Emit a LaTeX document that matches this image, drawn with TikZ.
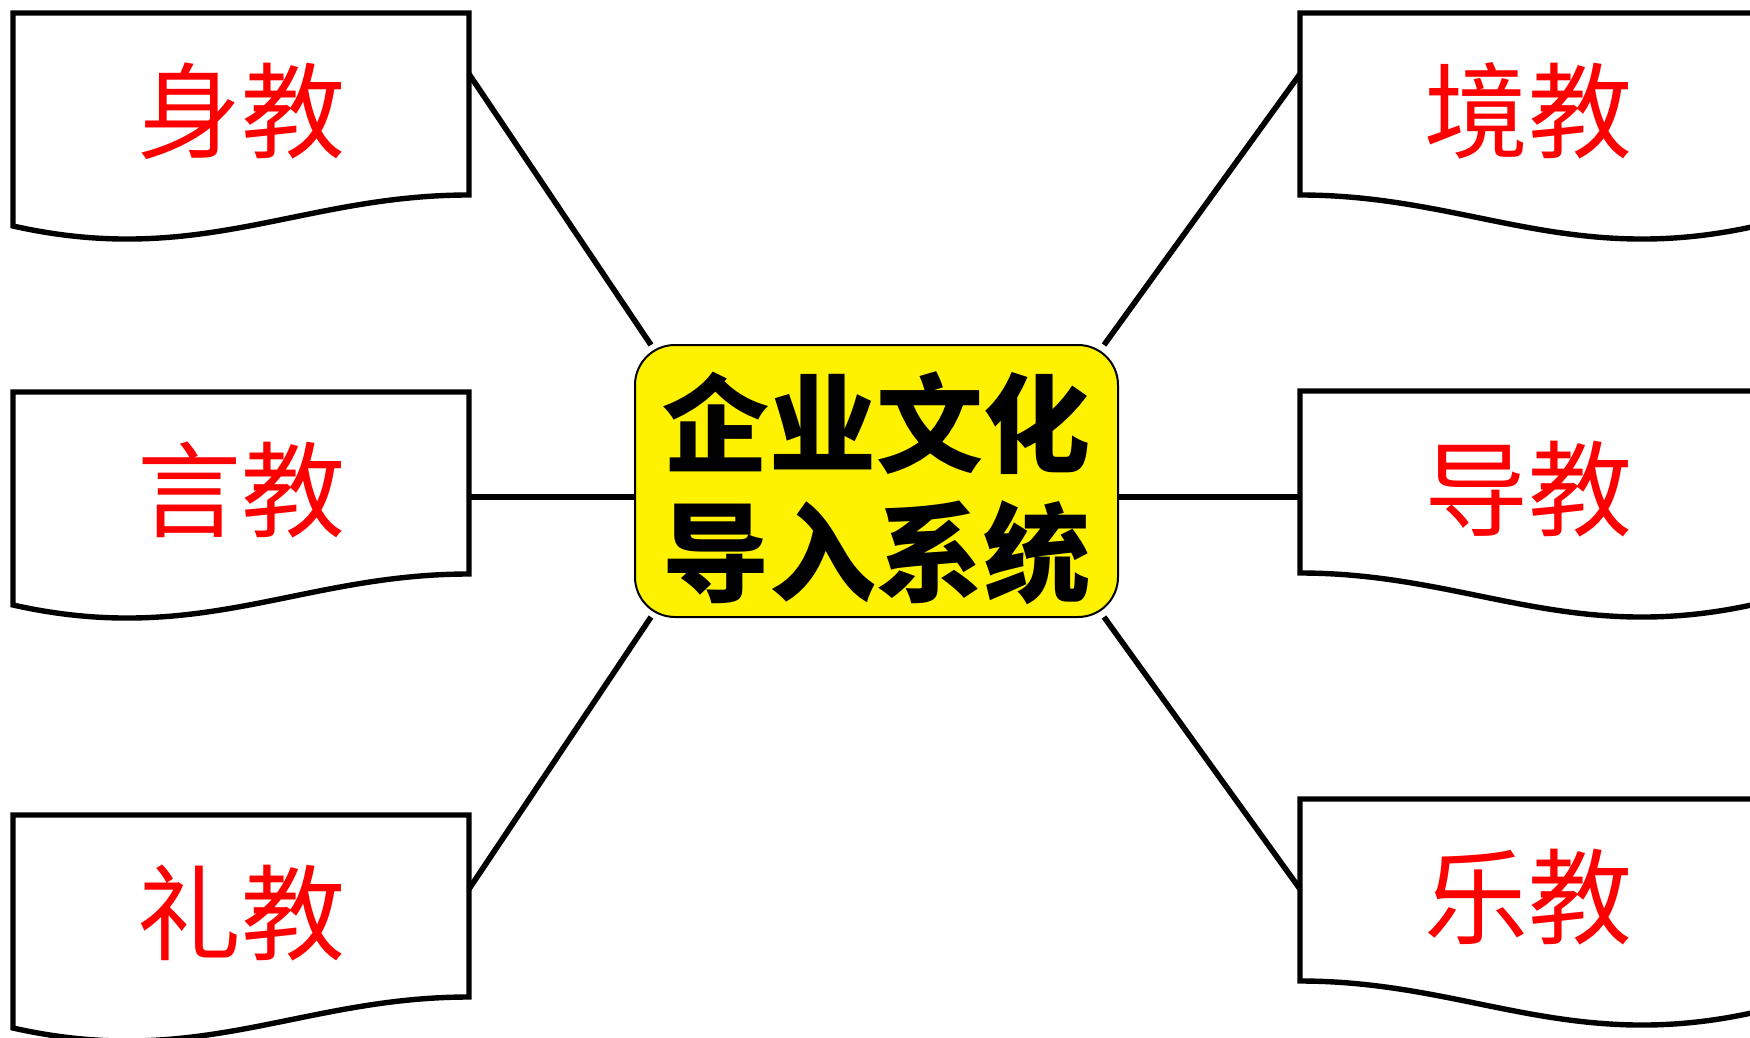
\documentclass[tikz,border=0pt]{standalone}
\usepackage{fontspec}
\newfontfamily\cjk{Noto Sans CJK SC}
\usetikzlibrary{calc}
\tikzset{
  docbox/.style={minimum width=456pt, minimum height=182pt, inner sep=0pt, outer sep=0pt,
    text=red, font=\cjk\fontsize{104pt}{116pt}\selectfont},
  centerbox/.style={draw=black, line width=2pt, fill=yellow, rounded corners=40pt,
    minimum width=483pt, minimum height=272pt, inner sep=0pt, outer sep=0pt},
  coretext/.style={align=center, inner sep=0pt, font=\cjk\bfseries\fontsize{107pt}{129pt}\selectfont},
  docline/.style={draw=black, line width=5.4pt, line join=miter},
  conn/.style={draw=black, line width=5.6pt}
}
\newcommand{\leftdoc}[1]{%
  \draw[docline] (#1.north west) -- (#1.north east) -- (#1.south east)
    .. controls ($(#1.south east)+(-169,0)$) and ($(#1.south west)+(187,73)$) .. ($(#1.south west)+(0,31)$) -- cycle;}
\newcommand{\rightdoc}[1]{%
  \draw[docline] (#1.north east) -- (#1.north west) -- (#1.south west)
    .. controls ($(#1.south west)+(169,0)$) and ($(#1.south east)+(-187,73)$) .. ($(#1.south east)+(0,31)$) -- cycle;}
\begin{document}
\begin{tikzpicture}[x=1pt,y=-1pt]
\fill[white] (0,0) rectangle (1750,1038);
\useasboundingbox (0,0) rectangle (1750,1038);
% document boxes
\node[docbox] (shen) at (241,104) {};
\node[docbox] (yan)  at (241,483) {};
\node[docbox] (li)   at (241,906) {};
\node[docbox] (jing) at (1528,104) {};
\node[docbox] (dao)  at (1528,482) {};
\node[docbox] (le)   at (1528,890) {};
\leftdoc{shen}\leftdoc{yan}\leftdoc{li}
\rightdoc{jing}\rightdoc{dao}\rightdoc{le}
\node[docbox, yshift=-7pt] (tshen) at (shen) {身教};
\node[docbox, yshift=-7pt] (tyan)  at (yan)  {言教};
\node[docbox, yshift=-7pt] (tli)   at (li)   {礼教};
\node[docbox, yshift=-7pt] (tjing) at (jing) {境教};
\node[docbox, yshift=-7pt] (tdao)  at (dao)  {导教};
\node[docbox, yshift=-7pt] (tle)   at (le)   {乐教};
% center
\node[centerbox] (core) at (876.5,481) {};
\node[coretext, yshift=-7pt] (coretxt) at (core) {企业文化\\导入系统};
% connectors
\draw[conn] ($(shen.north east)+(0,61)$) -- ($(core.north west)+(16,0)$);
\coordinate (y1) at ($(yan.north east)+(0,105)$);
\draw[conn] (y1) -- (y1 -| core.west);
\draw[conn] ($(li.north east)+(0,74)$) -- ($(core.south west)+(16,0)$);
\draw[conn] ($(jing.north west)+(0,61)$) -- ($(core.north east)+(-14,0)$);
\coordinate (y2) at ($(dao.north west)+(0,106)$);
\draw[conn] (y2) -- (y2 -| core.east);
\draw[conn] ($(le.north west)+(0,90)$) -- ($(core.south east)+(-14,0)$);
\end{tikzpicture}
\end{document}
